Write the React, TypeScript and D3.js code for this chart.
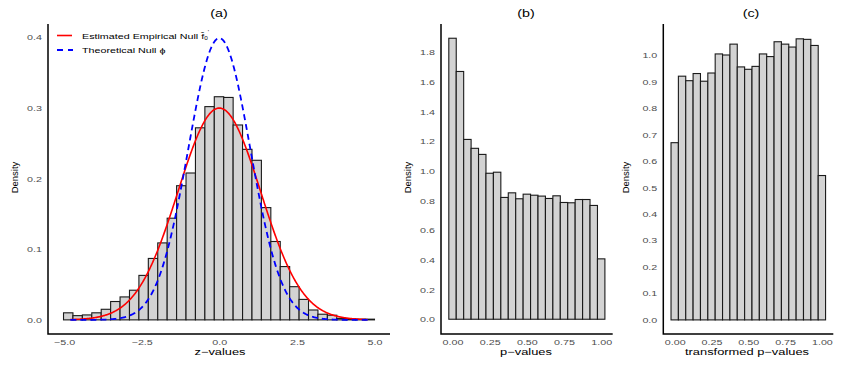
import React, { useEffect, useRef } from "react";
import * as d3 from "d3";

const W = 847;
const H = 366;
// the whole figure was stretched sideways, so horizontal text is widened
const SX = 1.43;
const FONT = "'Liberation Sans', Arial, Helvetica, sans-serif";

// (a) histogram of z-values, equal-width bins from zBinStart to zBinEnd
const zBinStart = -5.02;
const zBinEnd = 5.0;
const zDensity = [
  0.010, 0.006, 0.007, 0.010, 0.015, 0.026, 0.0325, 0.042, 0.063, 0.087, 0.109,
  0.144, 0.19, 0.208, 0.272, 0.302, 0.316, 0.315, 0.276, 0.2415, 0.226, 0.159,
  0.111, 0.0755, 0.047, 0.029, 0.014, 0.008, 0.0066, 0.002, 0.0014, 0.001, 0.001,
];
const zXTicks = [-5, -2.5, 0, 2.5, 5];
const zYTicks = [0, 0.1, 0.2, 0.3, 0.4];
// normal densities drawn over it
const empiricalNull = { mean: 0.0, sd: 1.33 };
const theoreticalNull = { mean: 0, sd: 1 };
const curveRange = [-4.8, 4.78];

// (b) p-values and (c) transformed p-values, bins centred on 0, 0.05, ..., 1
const pBinWidth = 0.05;
const pDensity = [
  1.894, 1.67, 1.212, 1.152, 1.111, 0.984, 0.991, 0.821, 0.852, 0.812, 0.843,
  0.836, 0.83, 0.814, 0.832, 0.787, 0.785, 0.807, 0.807, 0.767, 0.407,
];
const tDensity = [
  0.669, 0.92, 0.903, 0.93, 0.901, 0.932, 1.004, 1.0, 1.041, 0.955, 0.946,
  0.957, 1.004, 0.994, 1.05, 1.041, 1.03, 1.061, 1.059, 1.036, 0.545,
];
const pXTicks = [0, 0.25, 0.5, 0.75, 1];
const pYTicks = [0, 0.2, 0.4, 0.6, 0.8, 1.0, 1.2, 1.4, 1.6, 1.8];
const tYTicks = [0, 0.1, 0.2, 0.3, 0.4, 0.5, 0.6, 0.7, 0.8, 0.9, 1.0];

type Bar = { x0: number; x1: number; y: number };

function normalPdf(x: number, m: number, s: number) {
  return Math.exp(-((x - m) * (x - m)) / (2 * s * s)) / (s * Math.sqrt(2 * Math.PI));
}

function stretchedText(g: any, x: number, y: number, txt: string, size: number, anchor = "middle") {
  return g
    .append("text")
    .attr("transform", `translate(${x},${y}) scale(${SX},1)`)
    .attr("text-anchor", anchor)
    .attr("font-size", size)
    .attr("font-family", FONT)
    .attr("fill", "#000")
    .text(txt);
}

function drawPanel(svg: any, o: any) {
  const x = d3.scaleLinear().domain(o.xDomain).range([o.left, o.right]);
  const y = d3.scaleLinear().domain(o.yDomain).range([334, 24]);
  const g = svg.append("g");

  // bars
  g.selectAll("rect")
    .data(o.bars as Bar[])
    .enter()
    .append("rect")
    .attr("x", (d: Bar) => x(d.x0))
    .attr("width", (d: Bar) => x(d.x1) - x(d.x0))
    .attr("y", (d: Bar) => y(d.y))
    .attr("height", (d: Bar) => y(0) - y(d.y))
    .attr("fill", "#d3d3d3")
    .attr("stroke", "#1a1a1a")
    .attr("stroke-width", 1.1);

  if (o.extra) o.extra(g, x, y);

  // y axis, no tick marks
  const gY = g.append("g").attr("transform", `translate(${o.left},0)`);
  gY.call(d3.axisLeft(y).tickValues(o.yTicks).tickSize(0).tickFormat(d3.format(o.yFmt)));
  gY.select(".domain").remove();
  gY.selectAll("text")
    .attr("x", -6 / SX)
    .attr("dy", "0.34em")
    .attr("transform", `scale(${SX},1)`)
    .attr("font-size", 7.5)
    .attr("font-family", FONT)
    .attr("fill", "#4d4d4d");

  const gX = g.append("g").attr("transform", "translate(0,334)");
  gX.call(d3.axisBottom(x).tickValues(o.xTicks).tickSize(0).tickFormat(d3.format(o.xFmt)));
  gX.select(".domain").remove();
  gX.selectAll("text")
    .attr("y", 11)
    .attr("dy", 0)
    .attr("transform", `scale(${SX},1)`)
    .attr("font-size", 7.5)
    .attr("font-family", FONT)
    .attr("fill", "#4d4d4d");

  // axis lines
  g.append("path")
    .attr("d", `M${o.left},24V334H${o.right}`)
    .attr("fill", "none")
    .attr("stroke", "#000")
    .attr("stroke-width", 1.5);

  stretchedText(g, o.titleX, 17, o.title, 10);
  stretchedText(g, o.xLabelX, 355, o.xLabel, 9);
  g.append("text")
    .attr("transform", `translate(${o.yLabelX},177.5) rotate(-90)`)
    .attr("text-anchor", "middle")
    .attr("font-size", 9.5)
    .attr("font-family", FONT)
    .text("Density");
}

export default function App() {
  const ref = useRef<SVGSVGElement>(null);

  useEffect(() => {
    const svg = d3.select(ref.current);
    svg.selectAll("*").remove();

    const zWidth = (zBinEnd - zBinStart) / zDensity.length;
    const zBars = zDensity.map((d, i) => ({
      x0: zBinStart + i * zWidth,
      x1: zBinStart + (i + 1) * zWidth,
      y: d,
    }));
    const pBars = (arr: number[]) =>
      arr.map((d, i) => ({ x0: i * pBinWidth - pBinWidth / 2, x1: i * pBinWidth + pBinWidth / 2, y: d }));

    drawPanel(svg, {
      left: 48,
      right: 390,
      xDomain: [-5.52, 5.5],
      yDomain: [-0.02, 0.419],
      bars: zBars,
      xTicks: zXTicks,
      yTicks: zYTicks,
      xFmt: ".1f",
      yFmt: ".1f",
      title: "(a)",
      titleX: 219,
      xLabel: "z\u2212values",
      xLabelX: 220,
      yLabelX: 17.5,
      extra: (g: any, x: any, y: any) => {
        const xs = d3.range(curveRange[0], curveRange[1] + 1e-9, 0.02);
        const line = (p: { mean: number; sd: number }) =>
          d3
            .line<number>()
            .x((v) => x(v))
            .y((v) => y(normalPdf(v, p.mean, p.sd)))(xs);
        g.append("path")
          .attr("d", line(empiricalNull))
          .attr("fill", "none")
          .attr("stroke", "#ff0000")
          .attr("stroke-width", 1.6);
        g.append("path")
          .attr("d", line(theoreticalNull))
          .attr("fill", "none")
          .attr("stroke", "#0000ff")
          .attr("stroke-width", 1.8)
          .attr("stroke-dasharray", "6,4");

        // legend
        g.append("line")
          .attr("x1", 57).attr("x2", 72).attr("y1", 35.5).attr("y2", 35.5)
          .attr("stroke", "#ff0000").attr("stroke-width", 1.6);
        g.append("line")
          .attr("x1", 57).attr("x2", 73).attr("y1", 50).attr("y2", 50)
          .attr("stroke", "#0000ff").attr("stroke-width", 1.8)
          .attr("stroke-dasharray", "6,5");
        const t1 = stretchedText(g, 82, 38.5, "Estimated Empirical Null ", 7.5, "start");
        t1.append("tspan").text("f\u0302");
        t1.append("tspan").attr("font-size", 4.5).attr("dy", 1.8).text("0");
        t1.append("tspan").attr("font-size", 4.5).attr("dy", -6).text("'");
        stretchedText(g, 82, 53, "Theoretical Null \u03d5", 7.5, "start");
      },
    });

    drawPanel(svg, {
      left: 441,
      right: 612.7,
      xDomain: [-0.0775, 1.0775],
      yDomain: [-0.0995, 1.99],
      bars: pBars(pDensity),
      xTicks: pXTicks,
      yTicks: pYTicks,
      xFmt: ".2f",
      yFmt: ".1f",
      title: "(b)",
      titleX: 526,
      xLabel: "p\u2212values",
      xLabelX: 526,
      yLabelX: 410.5,
    });

    drawPanel(svg, {
      left: 663.3,
      right: 833.3,
      xDomain: [-0.0775, 1.0775],
      yDomain: [-0.0532, 1.117],
      bars: pBars(tDensity),
      xTicks: pXTicks,
      yTicks: tYTicks,
      xFmt: ".2f",
      yFmt: ".1f",
      title: "(c)",
      titleX: 751,
      xLabel: "transformed p\u2212values",
      xLabelX: 747,
      yLabelX: 628.5,
    });
  }, []);

  return (
    <svg
      ref={ref}
      width={W}
      height={H}
      style={{ position: "absolute", left: 0, top: 0, background: "#fff" }}
    />
  );
}
